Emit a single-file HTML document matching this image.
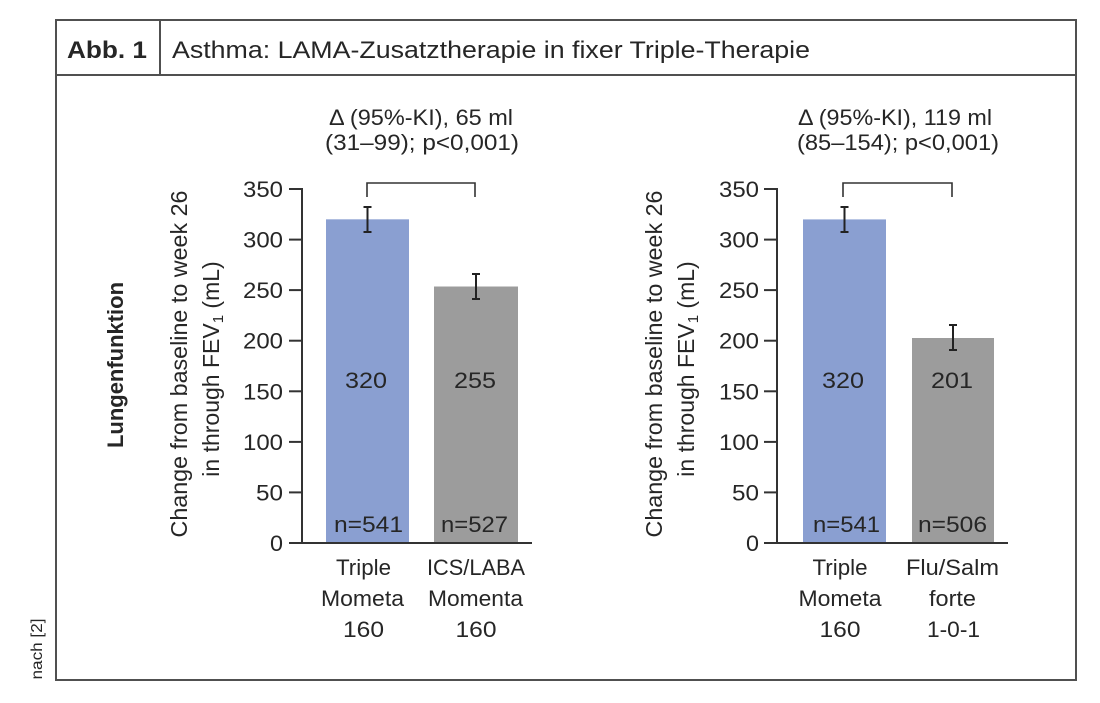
<!DOCTYPE html>
<html>
<head>
<meta charset="utf-8">
<style>
html,body{margin:0;padding:0;background:#fff;}
svg{display:block;}
text{font-family:"Liberation Sans",Arial,sans-serif;fill:#262626;}
</style>
</head>
<body>
<svg width="1100" height="703" viewBox="0 0 1100 703" xmlns="http://www.w3.org/2000/svg">
  <!-- frame -->
  <rect x="56" y="20" width="1020" height="660" fill="none" stroke="#505050" stroke-width="2"/>
  <line x1="56" y1="75" x2="1076" y2="75" stroke="#505050" stroke-width="2"/>
  <line x1="160" y1="20" x2="160" y2="75" stroke="#505050" stroke-width="2"/>
  <text x="67" y="58" font-size="24" font-weight="bold" textLength="80" lengthAdjust="spacingAndGlyphs">Abb. 1</text>
  <text x="172" y="58" font-size="24" textLength="638" lengthAdjust="spacingAndGlyphs">Asthma: LAMA-Zusatztherapie in fixer Triple-Therapie</text>

  <!-- side labels -->
  <text transform="translate(42,649) rotate(-90)" font-size="16" text-anchor="middle" textLength="61" lengthAdjust="spacingAndGlyphs">nach [2]</text>
  <text transform="translate(123,365) rotate(-90)" font-size="22" font-weight="bold" text-anchor="middle" textLength="166" lengthAdjust="spacingAndGlyphs">Lungenfunktion</text>

  <!-- ===== Chart 1 ===== -->
  <text transform="translate(187,364) rotate(-90)" font-size="23" text-anchor="middle" textLength="347" lengthAdjust="spacingAndGlyphs">Change from baseline to week 26</text>
  <text transform="translate(219,369) rotate(-90)" font-size="23" text-anchor="middle">in through FEV<tspan font-size="15" dy="4">1</tspan><tspan dy="-4"> (mL)</tspan></text>

  <text x="421" y="125" font-size="22" text-anchor="middle" textLength="184" lengthAdjust="spacingAndGlyphs">Δ (95%-KI), 65 ml</text>
  <text x="422" y="150" font-size="22" text-anchor="middle" textLength="194" lengthAdjust="spacingAndGlyphs">(31–99); p&lt;0,001)</text>

  <!-- bars -->
  <rect x="326" y="219.4" width="83" height="123.6" fill="#8a9fd1"/>
  <rect x="326" y="219.4" width="83" height="323.6" fill="#8a9fd1"/>
  <rect x="434" y="286.5" width="84" height="256.5" fill="#9c9c9c"/>
  <!-- bracket -->
  <polyline points="367,197 367,183 475,183 475,197" fill="none" stroke="#333" stroke-width="1.6"/>
  <!-- error bars -->
  <g stroke="#222" stroke-width="2" fill="none">
    <line x1="367.5" y1="207" x2="367.5" y2="232"/>
    <line x1="363.5" y1="207" x2="371.5" y2="207"/>
    <line x1="363.5" y1="232" x2="371.5" y2="232"/>
    <line x1="476" y1="274" x2="476" y2="299"/>
    <line x1="472" y1="274" x2="480" y2="274"/>
    <line x1="472" y1="299" x2="480" y2="299"/>
  </g>
  <!-- axes -->
  <g stroke="#333" stroke-width="2" fill="none">
    <line x1="302" y1="188" x2="302" y2="544"/>
    <line x1="301" y1="543" x2="532" y2="543"/>
    <line x1="289" y1="189" x2="302" y2="189"/>
    <line x1="289" y1="239.6" x2="302" y2="239.6"/>
    <line x1="289" y1="290.1" x2="302" y2="290.1"/>
    <line x1="289" y1="340.7" x2="302" y2="340.7"/>
    <line x1="289" y1="391.3" x2="302" y2="391.3"/>
    <line x1="289" y1="441.9" x2="302" y2="441.9"/>
    <line x1="289" y1="492.4" x2="302" y2="492.4"/>
    <line x1="289" y1="543" x2="302" y2="543"/>
  </g>
  <g font-size="22" text-anchor="end">
    <text x="283" y="197" textLength="40" lengthAdjust="spacingAndGlyphs">350</text>
    <text x="283" y="247.6" textLength="40" lengthAdjust="spacingAndGlyphs">300</text>
    <text x="283" y="298.1" textLength="40" lengthAdjust="spacingAndGlyphs">250</text>
    <text x="283" y="348.7" textLength="40" lengthAdjust="spacingAndGlyphs">200</text>
    <text x="283" y="399.3" textLength="40" lengthAdjust="spacingAndGlyphs">150</text>
    <text x="283" y="449.9" textLength="40" lengthAdjust="spacingAndGlyphs">100</text>
    <text x="283" y="500.4" textLength="27" lengthAdjust="spacingAndGlyphs">50</text>
    <text x="283" y="551" textLength="13" lengthAdjust="spacingAndGlyphs">0</text>
  </g>
  <g font-size="22" text-anchor="middle">
    <text x="366" y="388" textLength="42" lengthAdjust="spacingAndGlyphs">320</text>
    <text x="475" y="388" textLength="42" lengthAdjust="spacingAndGlyphs">255</text>
    <text x="368.5" y="532" textLength="69" lengthAdjust="spacingAndGlyphs">n=541</text>
    <text x="474.5" y="532" textLength="67" lengthAdjust="spacingAndGlyphs">n=527</text>
    <text x="363.5" y="575" textLength="55" lengthAdjust="spacingAndGlyphs">Triple</text>
    <text x="362.5" y="606" textLength="83" lengthAdjust="spacingAndGlyphs">Mometa</text>
    <text x="363.5" y="637" textLength="41" lengthAdjust="spacingAndGlyphs">160</text>
    <text x="476" y="575" textLength="98" lengthAdjust="spacingAndGlyphs">ICS/LABA</text>
    <text x="475.5" y="606" textLength="95" lengthAdjust="spacingAndGlyphs">Momenta</text>
    <text x="476" y="637" textLength="41" lengthAdjust="spacingAndGlyphs">160</text>
  </g>

  <!-- ===== Chart 2 ===== -->
  <text transform="translate(662,364) rotate(-90)" font-size="23" text-anchor="middle" textLength="347" lengthAdjust="spacingAndGlyphs">Change from baseline to week 26</text>
  <text transform="translate(694,369) rotate(-90)" font-size="23" text-anchor="middle">in through FEV<tspan font-size="15" dy="4">1</tspan><tspan dy="-4"> (mL)</tspan></text>

  <text x="895" y="125" font-size="22" text-anchor="middle" textLength="194" lengthAdjust="spacingAndGlyphs">Δ (95%-KI), 119 ml</text>
  <text x="898" y="150" font-size="22" text-anchor="middle" textLength="202" lengthAdjust="spacingAndGlyphs">(85–154); p&lt;0,001)</text>

  <rect x="803" y="219.4" width="83" height="323.6" fill="#8a9fd1"/>
  <rect x="912" y="338" width="82" height="205" fill="#9c9c9c"/>
  <polyline points="843,197 843,183 952,183 952,197" fill="none" stroke="#333" stroke-width="1.6"/>
  <g stroke="#222" stroke-width="2" fill="none">
    <line x1="844.5" y1="207" x2="844.5" y2="232"/>
    <line x1="840.5" y1="207" x2="848.5" y2="207"/>
    <line x1="840.5" y1="232" x2="848.5" y2="232"/>
    <line x1="953" y1="325" x2="953" y2="350"/>
    <line x1="949" y1="325" x2="957" y2="325"/>
    <line x1="949" y1="350" x2="957" y2="350"/>
  </g>
  <g stroke="#333" stroke-width="2" fill="none">
    <line x1="777" y1="188" x2="777" y2="544"/>
    <line x1="776" y1="543" x2="1008" y2="543"/>
    <line x1="764" y1="189" x2="777" y2="189"/>
    <line x1="764" y1="239.6" x2="777" y2="239.6"/>
    <line x1="764" y1="290.1" x2="777" y2="290.1"/>
    <line x1="764" y1="340.7" x2="777" y2="340.7"/>
    <line x1="764" y1="391.3" x2="777" y2="391.3"/>
    <line x1="764" y1="441.9" x2="777" y2="441.9"/>
    <line x1="764" y1="492.4" x2="777" y2="492.4"/>
    <line x1="764" y1="543" x2="777" y2="543"/>
  </g>
  <g font-size="22" text-anchor="end">
    <text x="759" y="197" textLength="40" lengthAdjust="spacingAndGlyphs">350</text>
    <text x="759" y="247.6" textLength="40" lengthAdjust="spacingAndGlyphs">300</text>
    <text x="759" y="298.1" textLength="40" lengthAdjust="spacingAndGlyphs">250</text>
    <text x="759" y="348.7" textLength="40" lengthAdjust="spacingAndGlyphs">200</text>
    <text x="759" y="399.3" textLength="40" lengthAdjust="spacingAndGlyphs">150</text>
    <text x="759" y="449.9" textLength="40" lengthAdjust="spacingAndGlyphs">100</text>
    <text x="759" y="500.4" textLength="27" lengthAdjust="spacingAndGlyphs">50</text>
    <text x="759" y="551" textLength="13" lengthAdjust="spacingAndGlyphs">0</text>
  </g>
  <g font-size="22" text-anchor="middle">
    <text x="843" y="388" textLength="42" lengthAdjust="spacingAndGlyphs">320</text>
    <text x="952" y="388" textLength="42" lengthAdjust="spacingAndGlyphs">201</text>
    <text x="846.5" y="532" textLength="67" lengthAdjust="spacingAndGlyphs">n=541</text>
    <text x="952.5" y="532" textLength="69" lengthAdjust="spacingAndGlyphs">n=506</text>
    <text x="840" y="575" textLength="55" lengthAdjust="spacingAndGlyphs">Triple</text>
    <text x="840" y="606" textLength="83" lengthAdjust="spacingAndGlyphs">Mometa</text>
    <text x="840" y="637" textLength="41" lengthAdjust="spacingAndGlyphs">160</text>
    <text x="952.5" y="575" textLength="93" lengthAdjust="spacingAndGlyphs">Flu/Salm</text>
    <text x="952.5" y="606" textLength="47" lengthAdjust="spacingAndGlyphs">forte</text>
    <text x="953.5" y="637" textLength="53" lengthAdjust="spacingAndGlyphs">1-0-1</text>
  </g>
</svg>
</body>
</html>
